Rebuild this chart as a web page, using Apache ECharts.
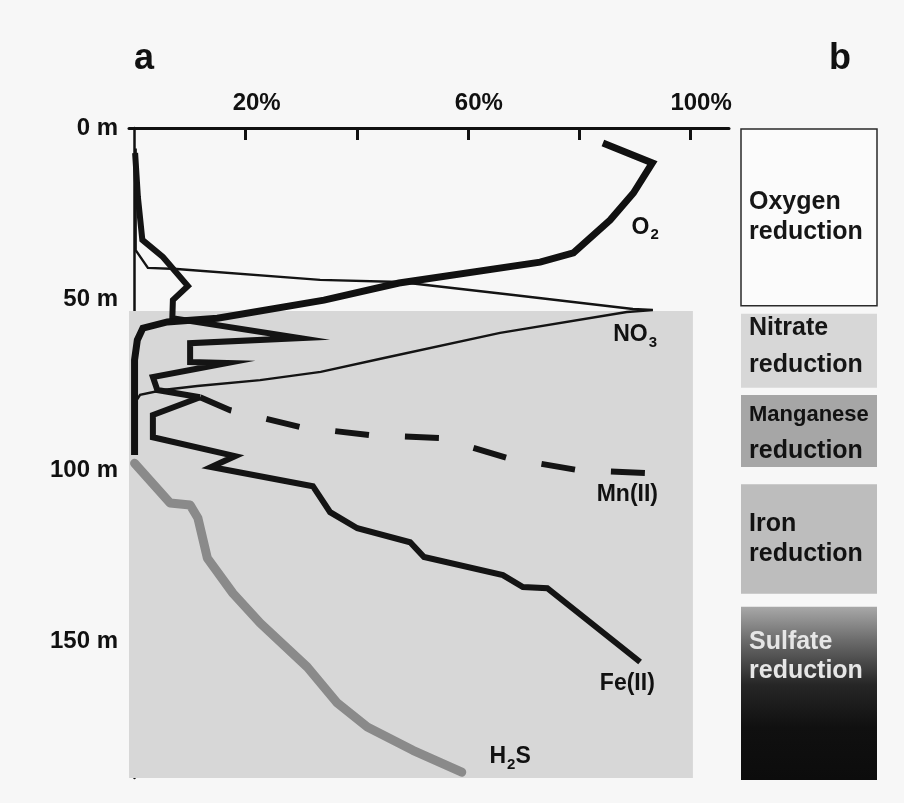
<!DOCTYPE html>
<html><head><meta charset="utf-8">
<script src="https://cdn.jsdelivr.net/npm/echarts@6/dist/echarts.min.js"></script>
<style>html,body{margin:0;padding:0;background:#f7f7f7}#c{width:904px;height:803px}</style>
</head><body><div id="c"></div>
<script>
// ---------- data (percent of maximum, depth in m) ----------
const xTickValues = [20, 40, 60, 80, 100];
const xLabelValues = [20, 60, 100];
const yLabelValues = [0, 50, 100, 150];

const o2Pct   = [84.3, 93.2, 89.8, 85.6, 79.0, 73.0, 47.6, 34.1, 14.9, 5.9, 1.5, 0.5, 0.0, 0.0, 0.0];
const o2Depth = [4.4, 10.2, 19.0, 26.9, 36.5, 39.2, 45.3, 50.3, 55.6, 56.7, 58.5, 62.0, 67.8, 79.5, 95.6];

const no3Pct   = [0.2, 0.2, 2.4, 7.6, 33.4, 47.8, 68.2, 89.7, 93.3, 88.6, 65.8, 44.7, 33.5, 22.6, 11.3, 5.1, 1.0, 0.2];
const no3Depth = [6.0, 35.7, 40.9, 41.2, 44.4, 45.0, 48.8, 52.9, 53.2, 53.8, 59.9, 67.3, 71.3, 73.7, 75.4, 76.6, 78.0, 80.0];

const mnPct   = [0.1, 0.6, 1.4, 5.1, 9.6, 6.9, 6.8, 29.8, 10.0, 10.0, 16.7, 3.3, 4.1, 11.8];
const mnDepth = [7.3, 20.2, 32.7, 37.7, 46.2, 50.3, 55.6, 61.4, 62.9, 68.4, 68.7, 72.8, 76.6, 78.7];
const mnDashPct   = [11.8, 17.2, 29.8, 42.4, 55.0, 67.2, 79.8, 92.4];
const mnDashDepth = [78.7, 82.5, 87.4, 89.8, 90.6, 96.5, 100.0, 100.9];

const fePct   = [11.8, 3.3, 3.3, 18.1, 13.8, 32.1, 35.2, 40.1, 49.6, 52.1, 66.3, 69.9, 74.3, 91.0];
const feDepth = [78.7, 83.9, 90.4, 95.9, 99.1, 104.7, 112.3, 117.0, 121.1, 125.4, 130.7, 134.2, 134.5, 156.1];

const h2sPct   = [0.0, 6.4, 10.0, 11.4, 13.1, 17.7, 22.6, 31.1, 36.5, 41.9, 50.1, 58.9];
const h2sDepth = [98.0, 109.6, 110.2, 114.0, 125.7, 136.0, 144.7, 157.6, 168.1, 175.1, 181.9, 188.3];

const anoxicZone = [53.5, 190];          // shaded depth range (m)
const anoxicMaxPct = 100.5;

const zoneFirst  = ['Oxygen', 'Nitrate', 'Manganese', 'Iron', 'Sulfate'];
const zoneSecond = ['reduction', 'reduction', 'reduction', 'reduction', 'reduction'];
const zoneTop    = [0.3, 54.1, 77.8, 103.8, 139.5];
const zoneBottom = [51.8, 75.7, 98.8, 135.7, 190.0];

// ---------- helpers ----------
const FONT = "'Liberation Sans', Arial, Helvetica, sans-serif";
const zip = (a, b) => a.map((v, i) => [v, b[i]]);

const chart = echarts.init(document.getElementById('c'), null, {renderer: 'canvas'});

const zoneStyles = [
  {fill: '#fbfbfb', stroke: '#2a2a2a', lw: 1.5, color: '#161616', s1: 25, s2: 25, lh: 30, ty: 'mid', dy: 0},
  {fill: '#d7d7d7', stroke: null, lw: 0, color: '#161616', s1: 25, s2: 25, lh: 37, ty: 'mid', dy: -4},
  {fill: '#a6a6a6', stroke: null, lw: 0, color: '#121212', s1: 22, s2: 25, lh: 37, ty: 'mid', dy: 2},
  {fill: '#bdbdbd', stroke: null, lw: 0, color: '#121212', s1: 25, s2: 25, lh: 30, ty: 'mid', dy: 0},
  {fill: {type: 'linear', x: 0, y: 0, x2: 0, y2: 1, colorStops: [
      {offset: 0, color: '#a8a8a8'}, {offset: 0.2, color: '#6a6a6a'},
      {offset: 0.45, color: '#262626'}, {offset: 0.7, color: '#101010'}, {offset: 1, color: '#0c0c0c'}]},
   stroke: null, lw: 0, color: '#e6e6e6', s1: 25, s2: 25, lh: 29, ty: 50, dy: 0}
];

const labelRich = {
  n: {fontSize: 23, fontWeight: 'bold', fontFamily: FONT, color: '#111', lineHeight: 30, verticalAlign: 'middle'},
  s: {fontSize: 15, fontWeight: 'bold', fontFamily: FONT, color: '#111', lineHeight: 30, verticalAlign: 'bottom', padding: [0, 0, 0, 1]}
};

const option = {
  backgroundColor: '#f7f7f7',
  animation: false,
  title: [
    {text: 'a', left: 129, top: 36, textStyle: {fontSize: 36, fontWeight: 'bold', fontFamily: FONT, color: '#111'}},
    {text: 'b', left: 824, top: 36, textStyle: {fontSize: 36, fontWeight: 'bold', fontFamily: FONT, color: '#111'}}
  ],
  grid: [
    {left: 129, top: 128, width: 600, height: 650},
    {left: 741, top: 128, width: 136, height: 652}
  ],
  xAxis: [
    {
      type: 'value', gridIndex: 0, position: 'top', min: -1, max: 107,
      splitLine: {show: false},
      axisLine: {show: true, lineStyle: {color: '#111', width: 3}},
      axisTick: {show: true, inside: true, length: 12, customValues: xTickValues, lineStyle: {color: '#111', width: 3}},
      axisLabel: {show: true, customValues: xLabelValues, formatter: '{value}%', margin: 13,
        padding: [0, 0, 0, 22], fontSize: 24, fontWeight: 'bold', fontFamily: FONT, color: '#111'}
    },
    {type: 'value', gridIndex: 1, min: 0, max: 1, show: false}
  ],
  yAxis: [
    {
      type: 'value', gridIndex: 0, inverse: true, min: 0, max: 190,
      splitLine: {show: false},
      axisLine: {show: true, lineStyle: {color: '#111', width: 2.5}},
      axisTick: {show: false},
      axisLabel: {show: true, customValues: yLabelValues, formatter: v => v + ' m', margin: 11,
        fontSize: 24, fontWeight: 'bold', fontFamily: FONT, color: '#111'}
    },
    {type: 'value', gridIndex: 1, inverse: true, min: 0, max: 190, show: false}
  ],
  series: [
    {
      name: 'zone', type: 'line', xAxisIndex: 0, yAxisIndex: 0, data: [], silent: true,
      markArea: {silent: true, itemStyle: {color: '#d7d7d7'},
        data: [[{coord: [-1, anoxicZone[0]]}, {coord: [anoxicMaxPct, anoxicZone[1]]}]]}
    },
    {
      name: 'H2S', type: 'line', data: zip(h2sPct, h2sDepth), showSymbol: false, silent: true,
      lineStyle: {color: '#8a8a8a', width: 9, cap: 'round', join: 'round'}
    },
    {
      name: 'NO3', type: 'line', data: zip(no3Pct, no3Depth), showSymbol: false, silent: true,
      lineStyle: {color: '#141414', width: 2.4, join: 'miter'}
    },
    {
      name: 'Fe(II)', type: 'line', data: zip(fePct, feDepth), showSymbol: false, silent: true,
      lineStyle: {color: '#141414', width: 6, join: 'miter'}
    },
    {
      name: 'Mn(II)', type: 'line', data: zip(mnPct, mnDepth), showSymbol: false, silent: true,
      lineStyle: {color: '#141414', width: 6, join: 'miter'}
    },
    {
      name: 'Mn(II) dashed', type: 'line', data: zip(mnDashPct, mnDashDepth), showSymbol: false, silent: true,
      lineStyle: {color: '#141414', width: 6, type: [34, 36], cap: 'butt'}
    },
    {
      name: 'O2', type: 'line', data: zip(o2Pct, o2Depth), showSymbol: false, silent: true,
      lineStyle: {color: '#111', width: 7, join: 'miter'}
    },
    {
      name: 'labels', type: 'scatter', symbolSize: 0, silent: true,
      itemStyle: {color: '#111', opacity: 1},
      label: {show: true, position: [0, 0], align: 'center', verticalAlign: 'middle',
        color: '#111', opacity: 1, textBorderWidth: 0, rich: labelRich},
      data: [
        {value: [91.9, 29.0], label: {formatter: '{n|O}{s|2}'}},
        {value: [90.1, 60.5], label: {formatter: '{n|NO}{s|3}'}},
        {value: [88.7, 107.3], label: {formatter: '{n|Mn(II)}'}},
        {value: [88.7, 162.3], label: {formatter: '{n|Fe(II)}'}},
        {value: [67.6, 183.9], label: {formatter: '{n|H}{s|2}{n|S}'}}
      ]
    },
    {
      name: 'zones', type: 'custom', xAxisIndex: 1, yAxisIndex: 1, silent: true,
      data: zoneFirst.map((n, i) => [i, zoneTop[i], zoneBottom[i]]),
      renderItem: (params, api) => {
        const i = api.value(0);
        const st = zoneStyles[i];
        const p1 = api.coord([0, api.value(1)]);
        const p2 = api.coord([1, api.value(2)]);
        const h = p2[1] - p1[1];
        const ty = (st.ty === 'mid' ? p1[1] + h / 2 : p1[1] + st.ty) + st.dy;
        return {
          type: 'group',
          children: [
            {type: 'rect', shape: {x: p1[0], y: p1[1], width: p2[0] - p1[0], height: h},
              style: {fill: st.fill, stroke: st.stroke, lineWidth: st.lw}},
            {type: 'text', x: p1[0] + 8, y: ty,
              style: {text: '{a|' + zoneFirst[i] + '}\n{b|' + zoneSecond[i] + '}',
                align: 'left', verticalAlign: 'middle',
                rich: {
                  a: {fontSize: st.s1, fontWeight: 'bold', fontFamily: FONT, fill: st.color, color: st.color, lineHeight: st.lh},
                  b: {fontSize: st.s2, fontWeight: 'bold', fontFamily: FONT, fill: st.color, color: st.color, lineHeight: st.lh}
                }}}
          ]
        };
      }
    }
  ]
};
chart.setOption(option);
</script>
</body></html>
